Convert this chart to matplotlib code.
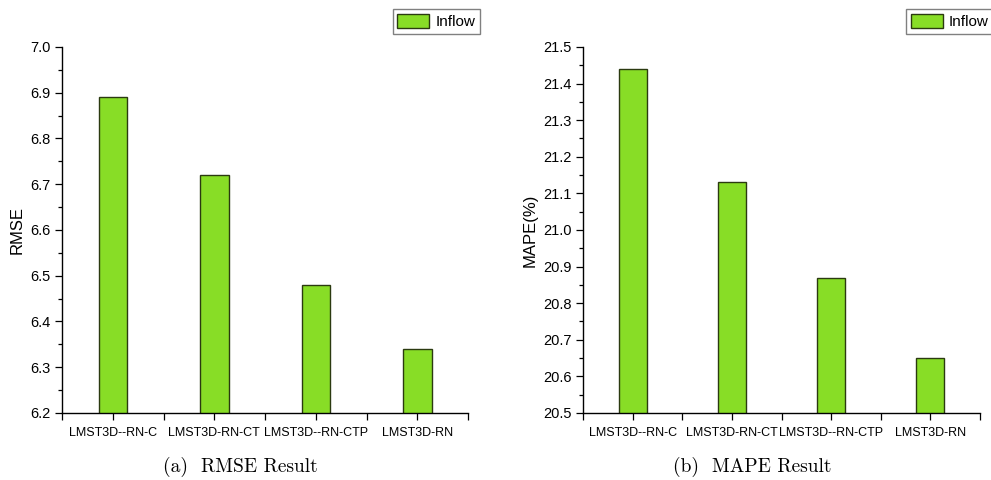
import numpy as np
import matplotlib
matplotlib.use('Agg')
from matplotlib import pyplot as plt
from matplotlib.ticker import MultipleLocator, FixedLocator, FormatStrFormatter

# Inflow error per model variant
models = ['LMST3D--RN-C', 'LMST3D-RN-CT', 'LMST3D--RN-CTP', 'LMST3D-RN']
rmse = [6.89, 6.72, 6.48, 6.34]
mape = [21.44, 21.13, 20.87, 20.65]

bar_color = '#88dd26'
edge_color = '#2b3a10'

plt.rcParams['font.family'] = ['Liberation Sans', 'DejaVu Sans']

fig = plt.figure(figsize=(9.91, 4.80), dpi=100)
ax1 = fig.add_axes([0.0626, 0.1396, 0.4097, 0.7625])
ax2 = fig.add_axes([0.5883, 0.1396, 0.4006, 0.7625])

x = np.arange(1, len(models) + 1)


def draw(ax, vals, ylim, ylabel):
    ax.bar(x, vals, width=0.28, color=bar_color,
           edgecolor=edge_color, linewidth=1.0)
    ax.set_xlim(0.5, 4.5)
    ax.set_ylim(*ylim)
    ax.set_xticks(x)
    ax.set_xticklabels(models, fontsize=9)
    ax.xaxis.set_minor_locator(FixedLocator([0.5, 1.5, 2.5, 3.5, 4.5]))
    ax.yaxis.set_major_locator(MultipleLocator(0.1))
    ax.yaxis.set_minor_locator(MultipleLocator(0.05))
    ax.yaxis.set_major_formatter(FormatStrFormatter('%.1f'))
    ax.tick_params(axis='y', which='major', length=5, width=0.9, labelsize=10.5, pad=3)
    ax.tick_params(axis='y', which='minor', length=3, width=0.9)
    ax.tick_params(axis='x', which='major', length=5, width=0.9, pad=5)
    ax.tick_params(axis='x', which='minor', length=5, width=0.9)
    for s in ['top', 'right']:
        ax.spines[s].set_visible(False)
    for s in ['left', 'bottom']:
        ax.spines[s].set_linewidth(1.0)
    ax.set_ylabel(ylabel, fontsize=12, labelpad=4)


draw(ax1, rmse, (6.2, 7.0), 'RMSE')
draw(ax2, mape, (20.5, 21.5), 'MAPE(%)')

for ax, anchor, loc in [(ax1, (480 / 991, 1 - 9 / 480), 'upper right'),
                        (ax2, (906 / 991, 1 - 9 / 480), 'upper left')]:
    fig.legend(handles=[ax.patches[0]], labels=['Inflow'], loc=loc,
               bbox_to_anchor=anchor, fontsize=11, fancybox=False,
               edgecolor='#808080', framealpha=1, borderpad=0.3,
               handlelength=2.1, handleheight=1.1, handletextpad=0.4,
               borderaxespad=0)

fig.text(240 / 991, 1 - 467 / 480, '(a)  RMSE Result', family='cmr10',
         fontsize=14, ha='center', va='center')
fig.text(752 / 991, 1 - 467 / 480, '(b)  MAPE Result', family='cmr10',
         fontsize=14, ha='center', va='center')

fig.savefig('out.png', dpi=100)
